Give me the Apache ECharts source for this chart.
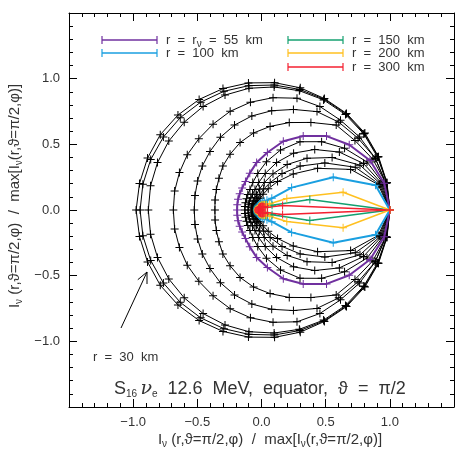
<!DOCTYPE html>
<html>
<head>
<meta charset="utf-8">
<script src="https://cdn.jsdelivr.net/npm/echarts@6/dist/echarts.min.js"></script>
<style>
	html, body { margin: 0; padding: 0; background: #fff; }
	#chart { width: 463px; height: 463px; }
</style>
</head>
<body>
<div id="chart"></div>
<script>
// angular grid (degrees), upper half; lower half is the mirror image
const phiDeg = [0, 12, 24, 36, 48, 60, 72, 84, 96, 108, 120, 132, 144, 156, 168, 180];

// normalised intensity I(phi) / max, black curves (r < 55 km and 55 < r < 100 km)
const blackA1 = [1, 1, 0.998, 0.996, 0.99, 0.98, 0.978, 0.975, 0.973, 0.972, 0.972, 0.973, 0.975, 0.972, 0.972, 0.977];
const blackA2 = [1, 0.998, 0.995, 0.99, 0.985, 0.975, 0.965, 0.957, 0.952, 0.95, 0.948, 0.946, 0.945, 0.945, 0.945, 0.946];
const blackA3 = [1, 0.997, 0.99, 0.985, 0.978, 0.968, 0.955, 0.942, 0.932, 0.92, 0.91, 0.9, 0.893, 0.887, 0.884, 0.882];
const blackB1 = [1, 0.99, 0.97, 0.945, 0.92, 0.91, 0.895, 0.86, 0.825, 0.79, 0.755, 0.73, 0.715, 0.7, 0.692, 0.687];
const blackB2 = [1, 0.99, 0.97, 0.93, 0.9, 0.865, 0.805, 0.76, 0.72, 0.68, 0.64, 0.6, 0.57, 0.545, 0.53, 0.524];
const blackB3 = [1, 0.99, 0.95, 0.9, 0.87, 0.77, 0.7, 0.64, 0.59, 0.54, 0.49, 0.45, 0.41, 0.385, 0.37, 0.363];
const blackC1 = [1, 0.97, 0.9, 0.8, 0.7, 0.6, 0.48, 0.37, 0.28, 0.22, 0.18, 0.16, 0.145, 0.137, 0.132, 0.13];
const blackC2 = [1, 0.96, 0.87, 0.75, 0.62, 0.5, 0.38, 0.28, 0.21, 0.165, 0.14, 0.125, 0.115, 0.109, 0.106, 0.104];
const blackC3 = [1, 0.95, 0.84, 0.68, 0.53, 0.4, 0.29, 0.21, 0.16, 0.125, 0.105, 0.092, 0.085, 0.081, 0.079, 0.078];
const blackC4 = [1, 0.94, 0.8, 0.61, 0.45, 0.32, 0.22, 0.16, 0.12, 0.095, 0.08, 0.07, 0.064, 0.06, 0.058, 0.057];
const blackC5 = [1, 0.93, 0.76, 0.54, 0.37, 0.25, 0.17, 0.12, 0.09, 0.07, 0.06, 0.053, 0.049, 0.047, 0.046, 0.045];

// coloured curves
const r55 = [1, 0.978, 0.926, 0.845, 0.757, 0.65, 0.55, 0.44, 0.363, 0.295, 0.25, 0.225, 0.21, 0.2, 0.193, 0.19];
const r100 = [1, 0.908, 0.612, 0.29, 0.12, 0.085, 0.07, 0.06, 0.053, 0.048, 0.044, 0.041, 0.039, 0.037, 0.036, 0.035];
const r150 = [1, 0.385, 0.09, 0.06, 0.05, 0.045, 0.04, 0.037, 0.035, 0.033, 0.032, 0.031, 0.03, 0.03, 0.03, 0.03];
const r200 = [1, 0.65, 0.216, 0.08, 0.055, 0.047, 0.042, 0.038, 0.035, 0.033, 0.032, 0.031, 0.03, 0.03, 0.03, 0.03];
const r300 = [1, 0.168, 0.05, 0.035, 0.03, 0.028, 0.027, 0.026, 0.025, 0.025, 0.025, 0.025, 0.025, 0.025, 0.025, 0.025];

const blackCurves = [blackA1, blackA2, blackA3, blackB1, blackB2, blackB3, blackC1, blackC2, blackC3, blackC4, blackC5];
const colorCurves = [r55, r100, r150, r200, r300];
const colorNames = ['r = r_nu = 55 km', 'r = 100 km', 'r = 150 km', 'r = 200 km', 'r = 300 km'];
const colorList = ['#70309f', '#1a9fe0', '#14a070', '#ffc020', '#f42030'];

// closed polar loop -> cartesian points
function toXY(vals) {
	let pts = [];
	for (let i = 0; i < phiDeg.length; i++) {
		let a = phiDeg[i] * Math.PI / 180;
		pts.push([vals[i] * Math.cos(a), vals[i] * Math.sin(a)]);
	}
	for (let i = phiDeg.length - 2; i >= 0; i--) {
		let a = phiDeg[i] * Math.PI / 180;
		pts.push([vals[i] * Math.cos(a), -vals[i] * Math.sin(a)]);
	}
	return pts;
}

// thin "+" marker
const plus = 'path://M3.5,0h1v8h-1zM0,3.5h8v1h-8z';

let series = [];
blackCurves.forEach(function(c, i) {
	series.push({
		name: 'black' + i,
		type: 'line',
		data: toXY(c),
		symbol: plus,
		symbolSize: 8,
		showSymbol: true,
		lineStyle: { color: '#000', width: 1 },
		itemStyle: { color: '#000' },
		silent: true,
		animation: false,
		z: 2
	});
});
colorCurves.forEach(function(c, i) {
	series.push({
		name: colorNames[i],
		type: 'line',
		data: toXY(c),
		symbol: plus,
		symbolSize: 8,
		lineStyle: { color: colorList[i], width: i < 2 ? 2 : 1.5 },
		itemStyle: { color: colorList[i] },
		silent: true,
		animation: false,
		z: 3
	});
});

let myChart = echarts.init(document.getElementById('chart'));

function tickFmt(v) {
	if (Math.abs(v) > 1.01) return '';
	return (v < -0.001 ? '\u2212' : '') + Math.abs(v).toFixed(1);
}

function axisBase(pos, showLabel) {
	return {
		type: 'value',
		min: -1.5,
		max: 1.5,
		interval: 0.5,
		position: pos,
		axisLine: { show: true, onZero: false, lineStyle: { color: '#000', width: 1 } },
		axisTick: { show: true, inside: true, length: 8, lineStyle: { color: '#000' } },
		minorTick: { show: true, splitNumber: 5, length: 4, lineStyle: { color: '#000' } },
		splitLine: { show: false },
		axisLabel: {
			show: showLabel,
			formatter: tickFmt,
			color: '#333',
			fontSize: 13,
			fontFamily: 'Liberation Sans',
			margin: 9
		}
	};
}

// legend drawn as graphic pieces (line with crosses at both ends)
let graphics = [];
const legX = [102, 102, 288, 288, 288];
const legY = [40, 53, 40, 53, 67];
colorNames.forEach(function(n, i) {
	let x0 = legX[i], x1 = legX[i] + 55, y = legY[i];
	graphics.push({ type: 'line', shape: { x1: x0, y1: y, x2: x1, y2: y }, style: { stroke: colorList[i], lineWidth: 1.5 } });
	[x0, x1].forEach(function(xx) {
		graphics.push({ type: 'line', shape: { x1: xx, y1: y - 4, x2: xx, y2: y + 4 }, style: { stroke: colorList[i], lineWidth: 1.2 } });
	});
	let txt = i === 0 ? '{a|r  =  r}{s|\u03bd}{a|  =  55  km}' : '{a|' + n.replace(/ /g, '  ') + '}';
	graphics.push({
		type: 'text', x: x1 + 9, y: y,
		style: {
			text: txt, fill: '#333', verticalAlign: 'middle',
			rich: {
				a: { fontSize: 13, fontFamily: 'Liberation Sans', fill: '#333' },
				s: { fontSize: 10, fontFamily: 'Liberation Sans', fill: '#333', padding: [8, 0, 0, 0] }
			}
		}
	});
});

// annotation: r = 30 km arrow
graphics.push({ type: 'polyline', shape: { points: [[121, 328], [147, 272]] }, style: { stroke: '#000', lineWidth: 1 } });
graphics.push({ type: 'polyline', shape: { points: [[137.8, 279.7], [147, 272], [147, 284]] }, style: { stroke: '#000', lineWidth: 1, fill: null } });
graphics.push({
	type: 'text', x: 93, y: 357,
	style: { text: 'r  =  30  km', fill: '#333', font: '13px Liberation Sans', verticalAlign: 'middle' }
});
graphics.push({
	type: 'text', x: 114, y: 389,
	style: {
		text: '{b|S}{s|16} {g|\u03bd}{s|e}{b|  12.6  MeV,  equator,  \u03d1  =  \u03c0/2}',
		verticalAlign: 'middle',
		rich: {
			b: { fontSize: 18, fontFamily: 'Liberation Sans', fill: '#333' },
			g: { fontSize: 19, fontFamily: 'DejaVu Serif', fontStyle: 'italic', fill: '#333' },
			s: { fontSize: 10, fontFamily: 'Liberation Sans', fill: '#333', padding: [11, 0, 0, 0] }
		}
	}
});

// axis titles
const titleTxt = '{a|I}{s|\u03bd}{a| (r,\u03d1=\u03c0/2,\u03c6)  /  max[I}{s|\u03bd}{a|(r,\u03d1=\u03c0/2,\u03c6)]}';
graphics.push({
	type: 'text', x: 270, y: 440,
	style: {
		text: titleTxt, align: 'center', verticalAlign: 'middle',
		rich: {
			a: { fontSize: 15, fontFamily: 'Liberation Sans', fill: '#333' },
			s: { fontSize: 10, fontFamily: 'Liberation Sans', fill: '#333', padding: [8, 0, 0, 0] }
		}
	}
});
graphics.push({
	type: 'text', x: 15, y: 196, rotation: Math.PI / 2,
	style: {
		text: titleTxt, align: 'center', verticalAlign: 'middle',
		rich: {
			a: { fontSize: 15, fontFamily: 'Liberation Sans', fill: '#333' },
			s: { fontSize: 10, fontFamily: 'Liberation Sans', fill: '#333', padding: [8, 0, 0, 0] }
		}
	}
});

let option = {
	animation: false,
	grid: { left: 69, right: 9, top: 13, bottom: 56 },
	xAxis: [axisBase('bottom', true), axisBase('top', false)],
	yAxis: [axisBase('left', true), axisBase('right', false)],
	series: series,
	graphic: graphics
};

myChart.setOption(option);

window.addEventListener('resize', function() {
	myChart.resize();
});
</script>
</body>
</html>
